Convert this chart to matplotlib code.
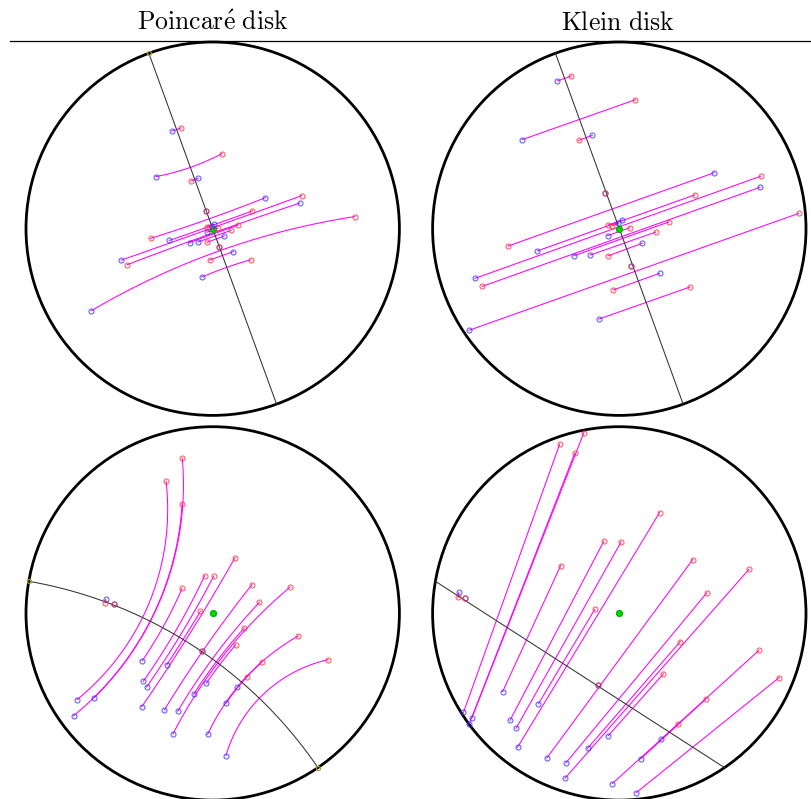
import numpy as np
import matplotlib.pyplot as plt
from matplotlib.lines import Line2D

plt.rcParams['mathtext.fontset'] = 'cm'

# Top row: point pairs read in Klein coordinates (unit disk)
top_blue_x = [-0.332, -0.520, -0.145, 0.509, -0.773, 0.754, -0.439, -0.805, 0.216, -0.109,
              0.123, -0.243, -0.155, -0.075, 0.063, -0.062, 0.016, -0.005]
top_blue_y = [0.791, 0.477, 0.500, 0.300, -0.266, 0.222, -0.119, -0.544, -0.239, -0.484,
              -0.078, -0.145, -0.141, 0.191, -0.198, -0.037, 0.047, 0.029]
top_red_x = [-0.257, 0.086, -0.217, -0.596, 0.757, -0.734, 0.404, 0.961, -0.032, 0.379,
             -0.059, 0.265, 0.195, -0.075, 0.063, 0.057, -0.059, -0.037]
top_red_y = [0.818, 0.691, 0.473, -0.093, 0.281, -0.309, 0.181, 0.082, -0.328, -0.312,
             -0.145, 0.036, -0.018, 0.191, -0.198, 0.005, 0.020, 0.016]
top_mirror_deg = [110.0, -70.0]   # ideal end points of the mirror line

# Bottom row: point pairs read in Poincare coordinates
bot_blue_x = [-0.636, -0.727, -0.745, -0.380, -0.372, -0.354, -0.377, -0.259, -0.213, -0.187,
              -0.246, -0.102, -0.027, -0.034, 0.071, 0.071, 0.132, -0.573, -0.530, -0.059]
bot_blue_y = [-0.452, -0.462, -0.548, -0.500, -0.364, -0.394, -0.253, -0.517, -0.646, -0.524,
              -0.275, -0.433, -0.648, -0.374, -0.762, -0.482, -0.396, 0.076, 0.052, -0.201]
bot_red_x = [-0.163, -0.250, -0.164, 0.119, -0.043, 0.005, -0.164, 0.210, 0.414, 0.250,
             -0.066, 0.169, 0.458, 0.123, 0.618, 0.264, 0.182, -0.578, -0.530, -0.059]
bot_red_y = [0.831, 0.708, 0.588, 0.298, 0.202, 0.199, 0.134, 0.154, 0.141, 0.059,
             0.011, -0.078, -0.121, -0.169, -0.248, -0.260, -0.339, 0.057, 0.052, -0.201]
bot_mirror_deg = [170.1, -55.7]

titles = ['Poincar\\acute{e}\\ disk', 'Klein\\ disk']


def klein_to_poincare(x, y):
    x, y = np.asarray(x, float), np.asarray(y, float)
    s = 1 + np.sqrt(np.clip(1 - x**2 - y**2, 0, None))
    return x / s, y / s


def poincare_to_klein(x, y):
    x, y = np.asarray(x, float), np.asarray(y, float)
    s = 1 + x**2 + y**2
    return 2 * x / s, 2 * y / s


def geodesic(p, q, n=120):
    # circle orthogonal to the unit circle through p and q
    cross = p[0] * q[1] - p[1] * q[0]
    if abs(cross) < 1e-5:
        return np.array([p[0], q[0]]), np.array([p[1], q[1]])
    A = 2 * np.array([p, q])
    b = np.array([1 + p @ p, 1 + q @ q])
    c = np.linalg.solve(A, b)
    a1 = np.arctan2(p[1] - c[1], p[0] - c[0])
    a2 = np.arctan2(q[1] - c[1], q[0] - c[0])
    d = (a2 - a1 + np.pi) % (2 * np.pi) - np.pi
    rho = np.hypot(p[0] - c[0], p[1] - c[1])
    t = a1 + d * np.linspace(0, 1, n)
    return c[0] + rho * np.cos(t), c[1] + rho * np.sin(t)


def draw_panel(ax, bx, by, rx, ry, mirror_deg, poincare):
    ax.add_patch(plt.Circle((0, 0), 1, fill=False, lw=2, color='k', clip_on=False, zorder=1))
    for i in range(len(bx)):
        p = np.array([bx[i], by[i]])
        q = np.array([rx[i], ry[i]])
        if poincare:
            xs, ys = geodesic(p, q)
        else:
            xs, ys = [p[0], q[0]], [p[1], q[1]]
        ax.plot(xs, ys, color='#ff00ff', lw=0.75, zorder=2)
    th = np.radians(mirror_deg)
    e1 = np.array([np.cos(th[0]), np.sin(th[0])])
    e2 = np.array([np.cos(th[1]), np.sin(th[1])])
    if poincare:
        xs, ys = geodesic(e1, e2)
        ax.plot(e1[0], e1[1], 'o', ms=3, mfc='none', mec='#a0a020', mew=0.8, zorder=5)
        if not np.allclose(e1, -e2, atol=0.02):
            ax.plot(e2[0], e2[1], 'o', ms=3, mfc='none', mec='#a0a020', mew=0.8, zorder=5)
    else:
        xs, ys = [e1[0], e2[0]], [e1[1], e2[1]]
    ax.plot(xs, ys, color='#333333', lw=0.75, zorder=3)
    ax.plot(0, 0, 'o', ms=4.2, color='#00dd00', mec='#00b000', zorder=3)
    ax.plot(bx, by, 'o', ms=3.6, mfc='none', mec='#3030ff', mew=0.8, alpha=0.75, zorder=4, ls='none')
    ax.plot(rx, ry, 'o', ms=3.6, mfc='none', mec='#ff3030', mew=0.8, alpha=0.75, zorder=4, ls='none')


W, H = 811, 799
fig = plt.figure(figsize=(W / 100, H / 100), dpi=100)

col_x = [212.7, 619.3]
row_y = [228.7, 613.4]
r_px = 186.7
half = 200
lim = half / r_px

axes = {}
for i, cy in enumerate(row_y):
    for j, cx in enumerate(col_x):
        ax = fig.add_axes([(cx - half) / W, (H - cy - half) / H, 2 * half / W, 2 * half / H])
        ax.set_xlim(-lim, lim)
        ax.set_ylim(-lim, lim)
        ax.axis('off')
        axes[(i, j)] = ax

px, py = klein_to_poincare(top_blue_x, top_blue_y)
qx, qy = klein_to_poincare(top_red_x, top_red_y)
draw_panel(axes[(0, 0)], px, py, qx, qy, top_mirror_deg, True)
draw_panel(axes[(0, 1)], np.array(top_blue_x), np.array(top_blue_y),
           np.array(top_red_x), np.array(top_red_y), top_mirror_deg, False)

draw_panel(axes[(1, 0)], np.array(bot_blue_x), np.array(bot_blue_y),
           np.array(bot_red_x), np.array(bot_red_y), bot_mirror_deg, True)
kx, ky = poincare_to_klein(bot_blue_x, bot_blue_y)
lx, ly = poincare_to_klein(bot_red_x, bot_red_y)
draw_panel(axes[(1, 1)], kx, ky, lx, ly, bot_mirror_deg, False)

# column headers and rule
for cx, t in zip([212.5, 618.0], titles):
    fig.text(cx / W, 1 - 23 / H, '$\\mathrm{' + t + '}$', fontsize=18.5, ha='center', va='center')
fig.add_artist(Line2D([10 / W, 1], [1 - 41 / H, 1 - 41 / H], color='k', lw=0.9))

fig.savefig('out.png', dpi=100)
